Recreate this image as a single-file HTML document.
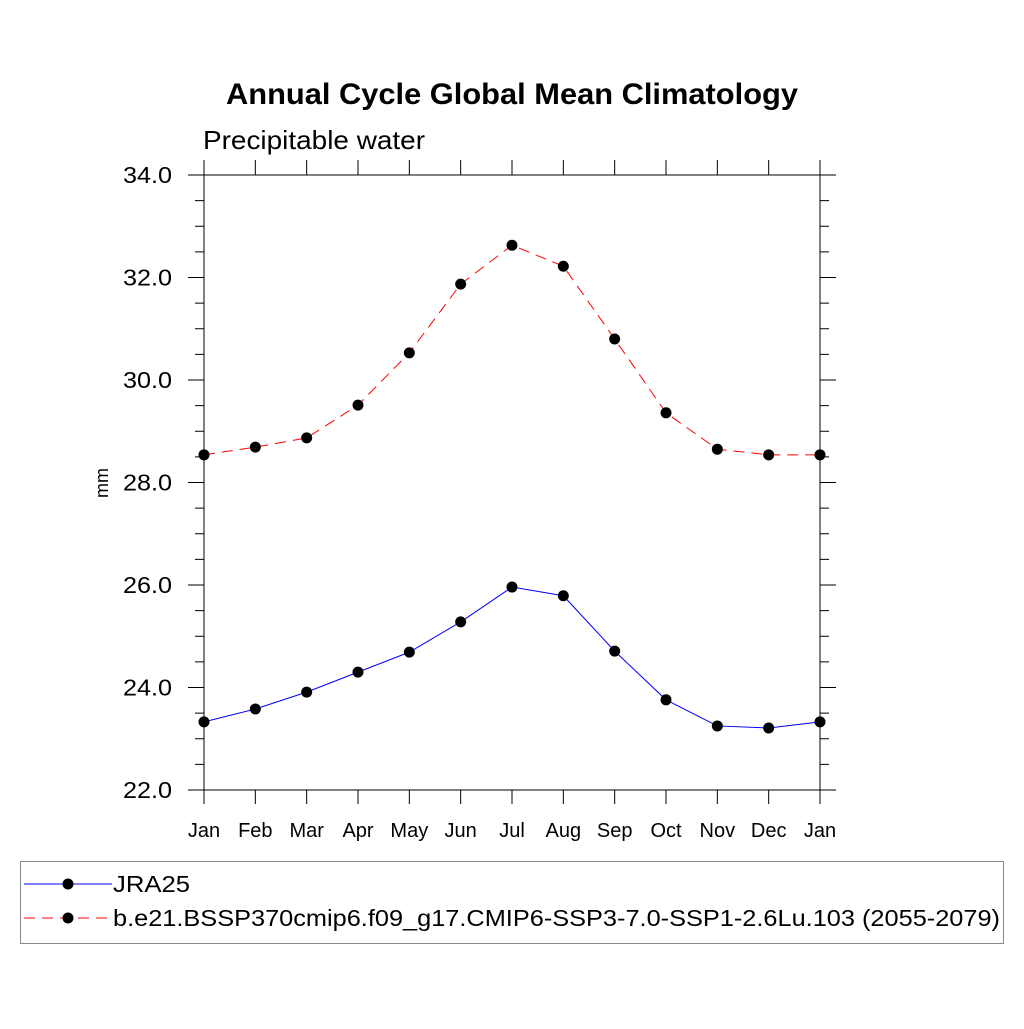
<!DOCTYPE html>
<html><head><meta charset="utf-8"><style>
body{margin:0;background:#fff;font-family:"Liberation Sans",sans-serif}
svg text{font-family:"Liberation Sans",sans-serif}
</style></head><body>
<svg id="chart" width="1024" height="1024" viewBox="0 0 1024 1024" xmlns="http://www.w3.org/2000/svg">
<rect width="1024" height="1024" fill="#fff"/>
<text x="226" y="104" font-size="30" font-weight="bold" textLength="572" lengthAdjust="spacingAndGlyphs">Annual Cycle Global Mean Climatology</text>
<text x="203" y="149" font-size="26" textLength="222" lengthAdjust="spacingAndGlyphs">Precipitable water</text>
<text transform="translate(108,483) rotate(-90)" text-anchor="middle" font-size="18">mm</text>
<g id="axes"></g>
<g id="series"></g>
<g>
<rect x="20.5" y="861.5" width="983" height="82" fill="none" stroke="#888" stroke-width="1"/>
<line x1="24" y1="884" x2="112" y2="884" stroke="#00f" stroke-width="1"/>
<circle cx="68" cy="884" r="5.5" fill="#000"/>
<text x="113" y="892" font-size="23" textLength="77" lengthAdjust="spacingAndGlyphs">JRA25</text>
<line x1="24" y1="918" x2="112" y2="918" stroke="#f00" stroke-width="1" stroke-dasharray="11,7"/>
<circle cx="68" cy="918" r="5.5" fill="#000"/>
<text x="113" y="926" font-size="23" textLength="887" lengthAdjust="spacingAndGlyphs">b.e21.BSSP370cmip6.f09_g17.CMIP6-SSP3-7.0-SSP1-2.6Lu.103 (2055-2079)</text>
</g>
</svg>
<script>
const months=["Jan","Feb","Mar","Apr","May","Jun","Jul","Aug","Sep","Oct","Nov","Dec","Jan"];
const jra25=[23.33,23.58,23.91,24.30,24.69,25.28,25.96,25.79,24.71,23.76,23.25,23.21,23.33];
const ssp=[28.54,28.69,28.87,29.51,30.53,31.87,32.63,32.22,30.80,29.36,28.65,28.54,28.54];
const yTicks=[22,24,26,28,30,32,34];
const NS="http://www.w3.org/2000/svg";
const L=204,R=820,T=175,B=790,YMIN=22,YMAX=34;
const xs=i=>L+(R-L)*i/(months.length-1);
const ys=v=>B-(v-YMIN)/(YMAX-YMIN)*(B-T);
function mk(tag,attrs,parent){const e=document.createElementNS(NS,tag);for(const k in attrs)e.setAttribute(k,attrs[k]);parent.appendChild(e);return e;}
const ax=document.getElementById('axes');
const frame=mk('rect',{x:L,y:T,width:R-L,height:B-T,fill:'none',stroke:'#000','stroke-width':1},ax);


for(let v=YMIN;v<=YMAX+1e-9;v+=0.5){
  const y=ys(v);const major=Math.abs(v%2)<1e-9;const len=major?16:9;
  mk('line',{x1:L-len,y1:y,x2:L,y2:y,stroke:'#000','stroke-width':1},ax);
  mk('line',{x1:R,y1:y,x2:R+len,y2:y,stroke:'#000','stroke-width':1},ax);
}
yTicks.forEach(v=>{
  const t=mk('text',{x:L-32,y:ys(v)+8,'text-anchor':'end','font-size':23,textLength:49,lengthAdjust:'spacingAndGlyphs'},ax);
  t.textContent=v.toFixed(1);
  
  
});
months.forEach((m,i)=>{
  const x=xs(i);
  mk('line',{x1:x,y1:B,x2:x,y2:B+14,stroke:'#000','stroke-width':1},ax);
  mk('line',{x1:x,y1:T-15,x2:x,y2:T,stroke:'#000','stroke-width':1},ax);
  const t=mk('text',{x:x,y:837,'text-anchor':'middle','font-size':20},ax);
  t.textContent=m;
  
  
});
const sg=document.getElementById('series');
function series(vals,color,dash,name){
  const pts=vals.map((v,i)=>xs(i)+','+ys(v)).join(' ');
  const pl=mk('polyline',{points:pts,fill:'none',stroke:color,'stroke-width':1},sg);
  if(dash)pl.setAttribute('stroke-dasharray',dash);
  
  
  vals.forEach((v,i)=>{
    const c=mk('circle',{cx:xs(i),cy:ys(v),r:5.5,fill:'#000'},sg);
    
    
  });
}
series(jra25,'#00f',null,'jra25');
series(ssp,'#f00','11,7','ssp');
</script>
</body></html>
